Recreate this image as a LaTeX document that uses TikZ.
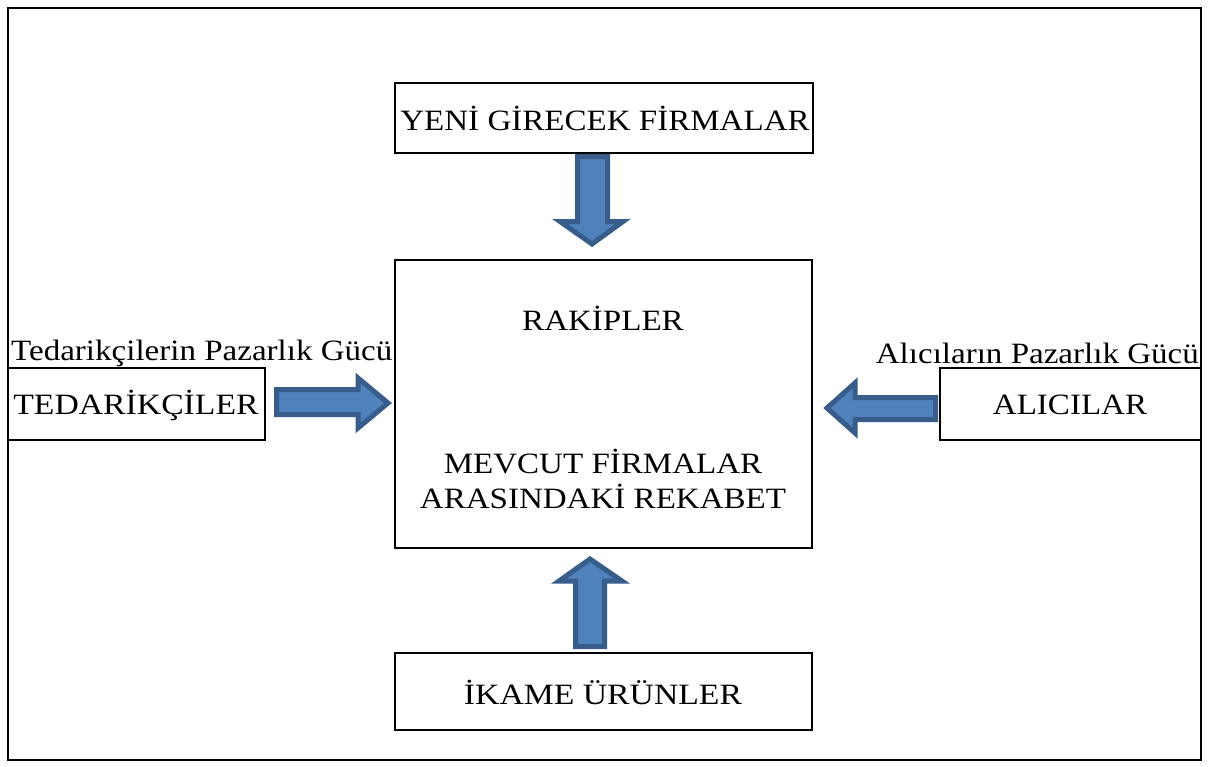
\documentclass[tikz,border=0pt]{standalone}
\usepackage{fontspec}
\setmainfont{Liberation Serif}
\definecolor{arrfill}{HTML}{4F81BD}
\definecolor{arrline}{HTML}{385D8A}
\newcommand{\wtxt}[1]{\scalebox{1.12}[1]{#1}}
\begin{document}
\begin{tikzpicture}[x=1pt,y=-1pt,
  box/.style={draw=black,line width=2pt,fill=white},
  lbl/.style={font=\fontsize{29.5}{34.5}\selectfont,inner sep=0pt},
  blockarrow/.style={fill=arrfill,draw=arrline,line width=5pt,line join=miter}]
\useasboundingbox (0,0) rectangle (1209,766);
\fill[white] (0,0) rectangle (1209,766);
% outer frame
\draw[line width=2.6pt] (8,8) rectangle (1201,760);
% boxes
\draw[box] (395,83) rectangle (813,153);
\draw[box] (395,260) rectangle (812,548);
\draw[box] (8,368) rectangle (265,440);
\draw[box] (940,368) rectangle (1201,440);
\draw[box] (395,653) rectangle (812,730);
% texts
\node[lbl] (yeni) at (605,118) {\wtxt{YENİ GİRECEK FİRMALAR}};
\node[lbl] (rakip) at (603,318) {\wtxt{RAKİPLER}};
\node[lbl,align=center] (mevcut) at (603,479) {\wtxt{MEVCUT FİRMALAR}\\\wtxt{ARASINDAKİ REKABET}};
\node[lbl] (ted) at (136,405) {\wtxt{\scalebox{1.02}[1]{TEDARİKÇİLER}}};
\node[lbl] (alici) at (1070,405) {\wtxt{ALICILAR}};
\node[lbl] (ikame) at (603,692) {\wtxt{\scalebox{1.02}[1]{İKAME ÜRÜNLER}}};
\node[lbl,anchor=west] (tedg) at (11,353) {\wtxt{Tedarikçilerin Pazarlık Gücü}};
\node[lbl,anchor=east] (alig) at (1199,353) {\wtxt{Alıcıların Pazarlık Gücü}};
% block arrows
\draw[blockarrow] (577.5,156.5) -- (607.5,156.5) -- (607.5,221.5) -- (623,221.5) -- (592,244) -- (560,221.5) -- (577.5,221.5) -- cycle;
\draw[blockarrow] (276.5,389.5) -- (358,389.5) -- (358,378) -- (388,403) -- (358,428) -- (358,414.5) -- (276.5,414.5) -- cycle;
\draw[blockarrow] (935.5,397.5) -- (855,397.5) -- (855,383) -- (827,408) -- (855,433) -- (855,419.5) -- (935.5,419.5) -- cycle;
\draw[blockarrow] (575.5,646.5) -- (575.5,581) -- (559,581) -- (590,559) -- (622,581) -- (604.5,581) -- (604.5,646.5) -- cycle;
\end{tikzpicture}
\end{document}
